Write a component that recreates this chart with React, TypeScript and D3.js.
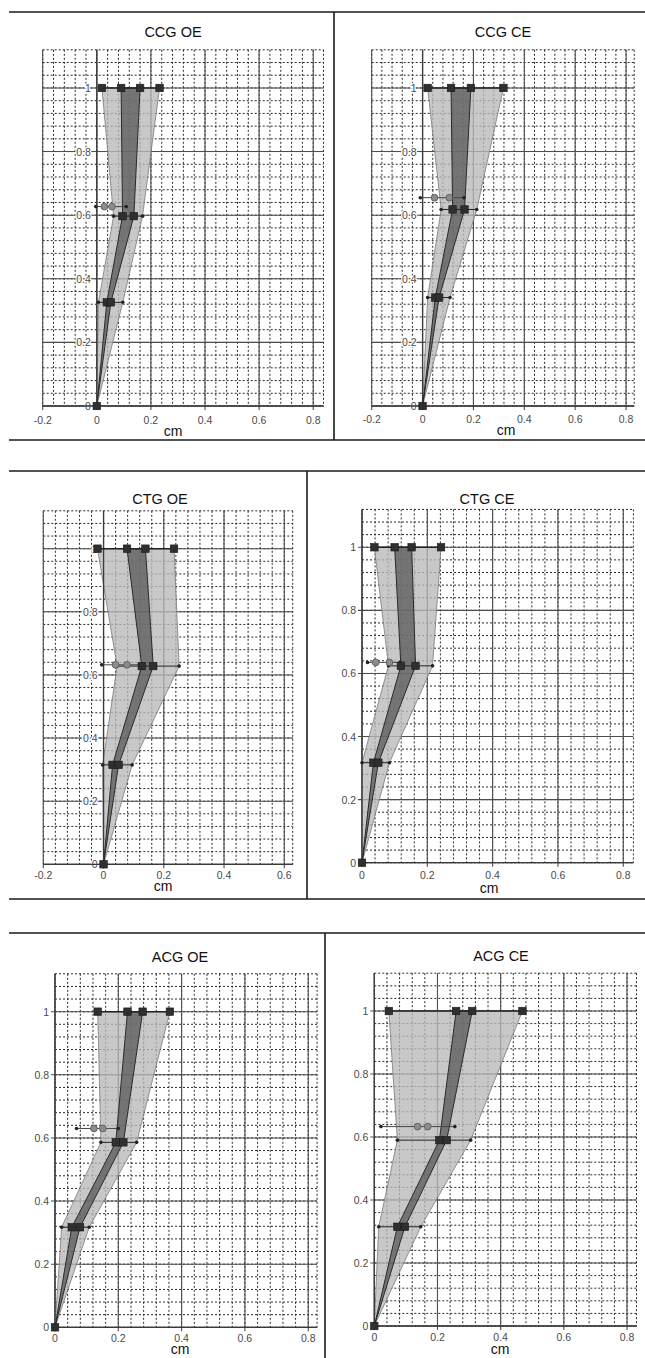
import React, { useEffect, useRef } from 'react';
import * as d3 from 'd3';

// panel titles, in reading order
const panelTitles = ['CCG OE', 'CCG CE', 'CTG OE', 'CTG CE', 'ACG OE', 'ACG CE'];

// heights of the four levels of each profile (0, low, mid, top)
const levelY = [
  [0, 0.326, 0.597, 1],
  [0, 0.341, 0.618, 1],
  [0, 0.315, 0.628, 1],
  [0, 0.317, 0.624, 1],
  [0, 0.317, 0.586, 1],
  [0, 0.315, 0.59, 1],
];

// outer (light) band, left and right edge in cm
const outerLeft = [
  [0, 0.006, 0.062, 0.019],
  [0, 0.02, 0.073, 0.02],
  [0, -0.003, 0.045, -0.02],
  [0, 0, 0.081, 0.038],
  [0, 0.021, 0.145, 0.135],
  [0, 0.014, 0.073, 0.046],
];
const outerRight = [
  [0, 0.096, 0.169, 0.232],
  [0, 0.108, 0.213, 0.318],
  [0, 0.095, 0.251, 0.234],
  [0, 0.084, 0.216, 0.242],
  [0, 0.108, 0.258, 0.363],
  [0, 0.147, 0.305, 0.469],
];

// inner (dark) band, left and right edge in cm
const innerLeft = [
  [0, 0.037, 0.095, 0.09],
  [0, 0.05, 0.118, 0.112],
  [0, 0.03, 0.127, 0.078],
  [0, 0.035, 0.119, 0.1],
  [0, 0.053, 0.192, 0.229],
  [0, 0.073, 0.206, 0.259],
];
const innerRight = [
  [0, 0.052, 0.137, 0.16],
  [0, 0.065, 0.165, 0.19],
  [0, 0.05, 0.165, 0.139],
  [0, 0.05, 0.164, 0.152],
  [0, 0.079, 0.216, 0.277],
  [0, 0.097, 0.229, 0.31],
];

// extra row with the two round markers and its whiskers
const circleY = [0.627, 0.655, 0.632, 0.635, 0.63, 0.633];
const circleWhiskerL = [-0.004, -0.009, -0.006, 0.017, 0.068, 0.021];
const circleA = [0.028, 0.047, 0.04, 0.042, 0.123, 0.137];
const circleB = [0.056, 0.105, 0.078, 0.084, 0.151, 0.169];
const circleWhiskerR = [0.109, 0.163, 0.12, 0.117, 0.2, 0.255];

// tick labels
const xTicksWide = [-0.2, 0, 0.2, 0.4, 0.6, 0.8];
const xTicksShort = [-0.2, 0, 0.2, 0.4, 0.6];
const xTicksPositive = [0, 0.2, 0.4, 0.6, 0.8];
const panelXTicks = [xTicksWide, xTicksWide, xTicksShort, xTicksPositive, xTicksPositive, xTicksPositive];
const yTicks = [0, 0.2, 0.4, 0.6, 0.8, 1];
const xLabel = 'cm';

const Y_MAX = 1.12;
const MINOR = 0.04;

// pixel layout of each panel
const layout = [
  { xMin: -0.2, xMax: 0.838, left: 42.7, right: 323.5, bottom: 406, top: 49.8, titleX: 173, titleY: 37, cmX: 173, cmY: 436, tickY: 424 },
  { xMin: -0.2, xMax: 0.832, left: 371.7, right: 634.2, bottom: 406, top: 49.8, titleX: 503, titleY: 37, cmX: 506, cmY: 435, tickY: 423 },
  { xMin: -0.2, xMax: 0.628, left: 43.3, right: 292.7, bottom: 864.3, top: 510.8, titleX: 160, titleY: 504, cmX: 163, cmY: 891, tickY: 879 },
  { xMin: 0, xMax: 0.831, left: 362, right: 633.4, bottom: 862.7, top: 509.4, titleX: 487, titleY: 504, cmX: 489, cmY: 893, tickY: 879 },
  { xMin: 0, xMax: 0.828, left: 55, right: 317.1, bottom: 1327.3, top: 973.8, titleX: 180, titleY: 962, cmX: 180, cmY: 1354, tickY: 1342 },
  { xMin: 0, xMax: 0.83, left: 374.3, right: 636.5, bottom: 1326, top: 973.2, titleX: 501, titleY: 961, cmX: 500, cmY: 1354, tickY: 1341 },
];

// separator lines between the panels
const frameLines = [
  [9, 12, 645, 12], [9, 440, 645, 440], [334, 12, 334, 440],
  [9, 471, 645, 471], [9, 899, 645, 899], [307, 471, 307, 899],
  [9, 933, 645, 933], [325, 933, 325, 1358],
];

const FONT = 'Arial, "Liberation Sans", Helvetica, sans-serif';

const fmt = (v: number) => (Math.abs(v) < 1e-9 ? '0' : String(+v.toFixed(1)));

const App = () => {
  const svgRef = useRef<SVGSVGElement>(null);

  useEffect(() => {
    const svg = d3.select(svgRef.current);
    svg.selectAll('*').remove();

    svg.append('rect').attr('width', 645).attr('height', 1358).attr('fill', '#fff');

    svg
      .append('g')
      .selectAll('line')
      .data(frameLines)
      .enter()
      .append('line')
      .attr('x1', (d) => d[0])
      .attr('y1', (d) => d[1])
      .attr('x2', (d) => d[2])
      .attr('y2', (d) => d[3])
      .attr('stroke', '#1a1a1a')
      .attr('stroke-width', 1.6);

    panelTitles.forEach((title, i) => {
      const L = layout[i];
      const x = d3.scaleLinear().domain([L.xMin, L.xMax]).range([L.left, L.right]);
      const y = d3.scaleLinear().domain([0, Y_MAX]).range([L.bottom, L.top]);
      const g = svg.append('g');

      const minorX = d3
        .range(Math.ceil(L.xMin / MINOR - 1e-6), Math.floor(L.xMax / MINOR + 1e-6) + 1)
        .map((k) => k * MINOR)
        .concat([L.xMax]);
      const minorY = d3.range(0, Math.round(Y_MAX / MINOR) + 1).map((k) => k * MINOR);

      // dotted minor grid
      g.append('g')
        .selectAll('line')
        .data(minorX)
        .enter()
        .append('line')
        .attr('x1', (d) => x(d))
        .attr('x2', (d) => x(d))
        .attr('y1', y(Y_MAX))
        .attr('y2', y(0))
        .attr('stroke', '#2a2a2a')
        .attr('stroke-width', 1)
        .attr('stroke-dasharray', '2,2');
      g.append('g')
        .selectAll('line')
        .data(minorY)
        .enter()
        .append('line')
        .attr('x1', x(L.xMin))
        .attr('x2', x(L.xMax))
        .attr('y1', (d) => y(d))
        .attr('y2', (d) => y(d))
        .attr('stroke', '#2a2a2a')
        .attr('stroke-width', 1)
        .attr('stroke-dasharray', '2,2');

      // solid major grid (with short ticks outside the plot)
      const xTicks = panelXTicks[i];
      g.append('g')
        .selectAll('line')
        .data(xTicks)
        .enter()
        .append('line')
        .attr('x1', (d) => x(d))
        .attr('x2', (d) => x(d))
        .attr('y1', y(Y_MAX))
        .attr('y2', y(0) + 4)
        .attr('stroke', '#4d4d4d')
        .attr('stroke-width', 1.1);
      g.append('g')
        .selectAll('line')
        .data(yTicks)
        .enter()
        .append('line')
        .attr('x1', x(L.xMin) - (L.xMin < 0 ? 0 : 4))
        .attr('x2', x(L.xMax))
        .attr('y1', (d) => y(d))
        .attr('y2', (d) => y(d))
        .attr('stroke', '#4d4d4d')
        .attr('stroke-width', 1.1);

      // y tick labels sit inside the grid when the axis is at x = 0
      g.append('g')
        .selectAll('text')
        .data(yTicks)
        .enter()
        .append('text')
        .attr('x', x(0) - 6)
        .attr('y', (d) => y(d) + 4)
        .attr('text-anchor', 'end')
        .attr('font-family', FONT)
        .attr('font-size', 10.5)
        .attr('fill', '#4a4a4a')
        .attr('stroke', '#fff')
        .attr('stroke-width', L.xMin < 0 ? 2.5 : 0)
        .attr('paint-order', 'stroke')
        .text((d) => fmt(d));

      // bands
      const lvl = levelY[i];
      const band = (lefts: number[], rights: number[]) =>
        lefts
          .map((v, j) => [x(v), y(lvl[j])])
          .concat(rights.map((v, j) => [x(v), y(lvl[j])]).reverse())
          .map((p) => p.join(','))
          .join(' ');

      g.append('polygon')
        .attr('points', band(outerLeft[i], outerRight[i]))
        .attr('fill', '#b8b8b8')
        .attr('fill-opacity', 0.78)
        .attr('stroke', '#7a7a7a')
        .attr('stroke-width', 0.8);
      g.append('polygon')
        .attr('points', band(innerLeft[i], innerRight[i]))
        .attr('fill', '#505050')
        .attr('fill-opacity', 0.7)
        .attr('stroke', '#2a2a2a')
        .attr('stroke-width', 1);

      // axis lines through zero
      g.append('line')
        .attr('x1', x(0))
        .attr('x2', x(0))
        .attr('y1', y(Y_MAX))
        .attr('y2', y(0) + 4)
        .attr('stroke', '#3a3a3a')
        .attr('stroke-width', 1.3);
      g.append('line')
        .attr('x1', x(L.xMin))
        .attr('x2', x(L.xMax))
        .attr('y1', y(0))
        .attr('y2', y(0))
        .attr('stroke', '#3a3a3a')
        .attr('stroke-width', 1.3);

      // horizontal whiskers at each level
      [1, 2, 3].forEach((j) => {
        g.append('line')
          .attr('x1', x(outerLeft[i][j]))
          .attr('x2', x(outerRight[i][j]))
          .attr('y1', y(lvl[j]))
          .attr('y2', y(lvl[j]))
          .attr('stroke', '#222')
          .attr('stroke-width', j === 3 ? 1.4 : 1);
      });
      g.append('line')
        .attr('x1', x(circleWhiskerL[i]))
        .attr('x2', x(circleWhiskerR[i]))
        .attr('y1', y(circleY[i]))
        .attr('y2', y(circleY[i]))
        .attr('stroke', '#444')
        .attr('stroke-width', 1);

      // whisker end dots
      const dots = [
        [outerLeft[i][1], lvl[1]], [outerRight[i][1], lvl[1]],
        [outerLeft[i][2], lvl[2]], [outerRight[i][2], lvl[2]],
        [circleWhiskerL[i], circleY[i]], [circleWhiskerR[i], circleY[i]],
      ];
      g.append('g')
        .selectAll('circle')
        .data(dots)
        .enter()
        .append('circle')
        .attr('cx', (d) => x(d[0]))
        .attr('cy', (d) => y(d[1]))
        .attr('r', 1.8)
        .attr('fill', '#222');

      // round markers
      g.append('g')
        .selectAll('circle')
        .data([circleA[i], circleB[i]])
        .enter()
        .append('circle')
        .attr('cx', (d) => x(d))
        .attr('cy', y(circleY[i]))
        .attr('r', 3.4)
        .attr('fill', '#8c8c8c')
        .attr('stroke', '#555')
        .attr('stroke-width', 0.8);

      // square markers
      const squares = [
        [0, 0],
        [innerLeft[i][1], lvl[1]], [innerRight[i][1], lvl[1]],
        [innerLeft[i][2], lvl[2]], [innerRight[i][2], lvl[2]],
        [outerLeft[i][3], lvl[3]], [innerLeft[i][3], lvl[3]],
        [innerRight[i][3], lvl[3]], [outerRight[i][3], lvl[3]],
      ];
      const s = 7.5;
      g.append('g')
        .selectAll('rect')
        .data(squares)
        .enter()
        .append('rect')
        .attr('x', (d) => x(d[0]) - s / 2)
        .attr('y', (d) => y(d[1]) - s / 2)
        .attr('width', s)
        .attr('height', s)
        .attr('fill', '#2f2f2f')
        .attr('stroke', '#1a1a1a')
        .attr('stroke-width', 0.6);

      // x tick labels
      g.append('g')
        .selectAll('text')
        .data(xTicks)
        .enter()
        .append('text')
        .attr('x', (d) => x(d))
        .attr('y', L.tickY)
        .attr('text-anchor', 'middle')
        .attr('font-family', FONT)
        .attr('font-size', 10.5)
        .attr('fill', '#4a4a4a')
        .text((d) => fmt(d));

      // title and axis name
      g.append('text')
        .attr('x', L.titleX)
        .attr('y', L.titleY)
        .attr('text-anchor', 'middle')
        .attr('font-family', FONT)
        .attr('font-size', 14.5)
        .attr('fill', '#111')
        .text(title);
      g.append('text')
        .attr('x', L.cmX)
        .attr('y', L.cmY)
        .attr('text-anchor', 'middle')
        .attr('font-family', FONT)
        .attr('font-size', 14)
        .attr('fill', '#111')
        .text(xLabel);
    });
  }, []);

  return (
    <div style={{ position: 'absolute', left: 0, top: 0 }}>
      <svg ref={svgRef} width={645} height={1358} style={{ display: 'block' }} />
    </div>
  );
};

export default App;
